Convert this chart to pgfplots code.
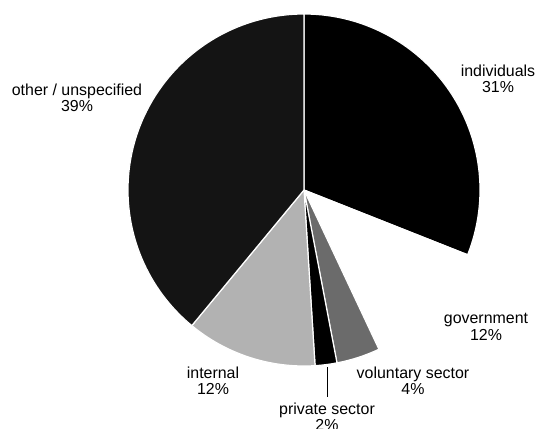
\documentclass[border=0pt]{standalone}
\usepackage{pgfplots}
\pgfplotsset{compat=1.18}
\usepackage{fontspec}
\setmainfont{Liberation Sans}
\definecolor{othgray}{gray}{0.08}
\definecolor{intgray}{gray}{0.70}
\definecolor{volgray}{gray}{0.42}
\begin{document}
\begin{tikzpicture}
\begin{axis}[
  width=546bp, height=429bp, scale only axis,
  xmin=0, xmax=546, ymin=0, ymax=429, y dir=reverse,
  hide axis, clip=false,
]
% value/fill, clockwise from 12 o'clock
\pgfplotsextra{
  \gdef\cum{0}
  \foreach \v/\c in {31/black,12/white,4/volgray,2/black,12/intgray,39/othgray}{
    \pgfmathsetmacro\a{90-3.6*\cum}
    \pgfmathsetmacro\b{90-3.6*(\cum+\v)}
    \fill[\c, draw=white, line width=1.2pt, line join=round]
      (axis cs:304,190) -- ++(\a:176bp) arc[start angle=\a, end angle=\b, radius=176bp] -- cycle;
    \pgfmathsetmacro\n{\cum+\v}\global\let\cum\n
  }
  \draw[black, line width=1pt] (axis cs:327,367) -- (axis cs:327,397);
}
\tikzset{lab/.style={align=center, font=\fontsize{16}{16.5}\selectfont, inner sep=0pt}}
\node[lab] at (axis cs:498,79) {individuals\\31\%};
\node[lab] at (axis cs:77,98) {other / unspecified\\39\%};
\node[lab] at (axis cs:486,327) {government\\12\%};
\node[lab] at (axis cs:213,381) {internal\\12\%};
\node[lab] at (axis cs:413,381) {voluntary sector\\4\%};
\node[lab] at (axis cs:327,417) {private sector\\2\%};
\end{axis}
\pgfresetboundingbox
\path[use as bounding box] (0,0) rectangle (546bp,429bp);
\end{tikzpicture}
\end{document}
